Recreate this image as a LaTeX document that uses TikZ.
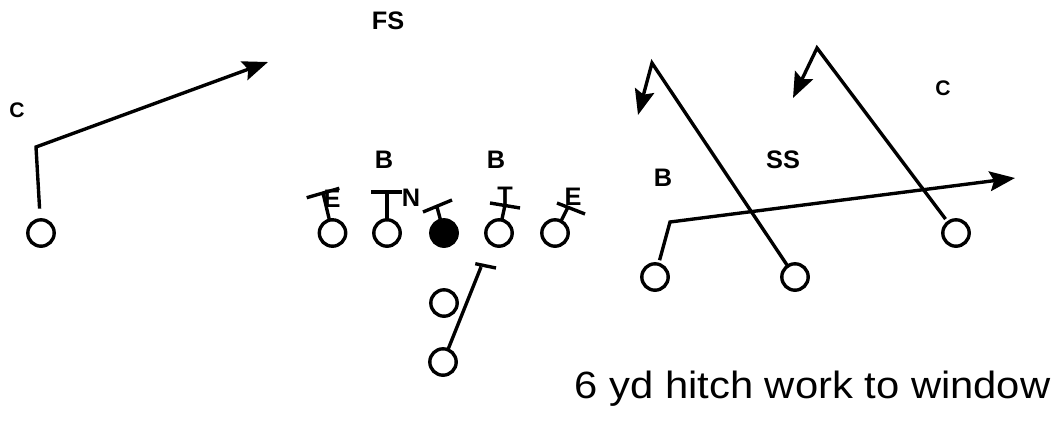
\documentclass[tikz,border=0pt]{standalone}
\usepackage{fontspec}
\setmainfont{Liberation Sans}
\usetikzlibrary{arrows.meta,calc}

\begin{document}
\begin{tikzpicture}[x=0.025cm, y=-0.025cm, line width=2.4pt, every node/.style={font=\bfseries\fontsize{18}{21}\selectfont}]
\tikzset{plyr/.style={draw, circle, minimum size=0.66cm, inner sep=0pt, outer sep=0pt}}
\tikzset{ctr/.style={plyr, fill=black}}
\tikzset{rte/.style={-{Stealth[length=18pt, width=14pt, inset=3pt]}}}
\tikzset{lbl/.style={inner sep=0pt}}
\useasboundingbox (0,0) rectangle (1062,434);
% offense
\node[plyr] (wrL) at (41,233) {};
\node[plyr] (lt) at (332.5,233) {};
\node[plyr] (lg) at (387,233) {};
\node[ctr] (c) at (444,233) {};
\node[plyr] (rg) at (499,233) {};
\node[plyr] (rt) at (555,233) {};
\node[plyr] (fb) at (444,303) {};
\node[plyr] (tb) at (443,362) {};
\node[plyr] (wrA) at (655,277) {};
\node[plyr] (wrB) at (795,277) {};
\node[plyr] (wrC) at (956,233) {};
% defense
\node[lbl] (fs) at (388,21) {FS};
\node[lbl, font=\bfseries\fontsize{15}{18}\selectfont] (cbL) at (17,110) {C};
\node[lbl] (lb1) at (384,160) {B};
\node[lbl] (lb2) at (496,160) {B};
\node[lbl] (de1) at (332,199) {E};
\node[lbl] (nt) at (411,198) {N};
\node[lbl] (dt) at (505,196) {T};
\node[lbl] (de2) at (573,197) {E};
\node[lbl] (lb3) at (663,178) {B};
\node[lbl] (ss) at (783,160) {SS};
\node[lbl, font=\bfseries\fontsize{15}{18}\selectfont] (cbR) at (943,88) {C};
% route corners and block points
\coordinate (cL) at (36,147);
\coordinate (tipL) at (268,62);
\coordinate (cA) at (670,222);
\coordinate (tipA) at (1015,178);
\coordinate (cB) at (652,63);
\coordinate (tipB) at (638,115);
\coordinate (cC) at (817,48);
\coordinate (tipC) at (793,98);
\coordinate (blt) at (323,193);
\coordinate (blg) at (387,192);
\coordinate (bc) at (437,207);
\coordinate (brg) at (505,205);
\coordinate (brt) at (568,207);
\coordinate (btb) at (481,267);
% routes
\draw[rte, shorten <=8pt] (wrL) -- (cL) -- (tipL);
\draw[rte, shorten <=3pt] (wrA) -- (cA) -- (tipA);
\draw[rte] (wrB) -- (cB) -- (tipB);
\draw[rte, shorten <=3pt] (wrC) -- (cC) -- (tipC);
% blocks
\draw (lt) -- (blt) (306.7,197.7) -- (339.3,188.3);
\draw (lg) -- (blg) (371,192) -- (402,192);
\draw (c) -- (bc) (423,212) -- (452,200);
\draw (rg) -- (brg) (490,203) -- (520,208);
\draw (rt) -- (brt) (557,203) -- (585,214);
\draw[shorten <=6pt] (tb) -- (btb) (467,262) -- (496,268);
\node[font=\fontsize{27}{30}\selectfont, inner sep=0pt, xscale=1.1] (note) at (812.5,389) {6 yd hitch work to window};
\end{tikzpicture}
\end{document}
